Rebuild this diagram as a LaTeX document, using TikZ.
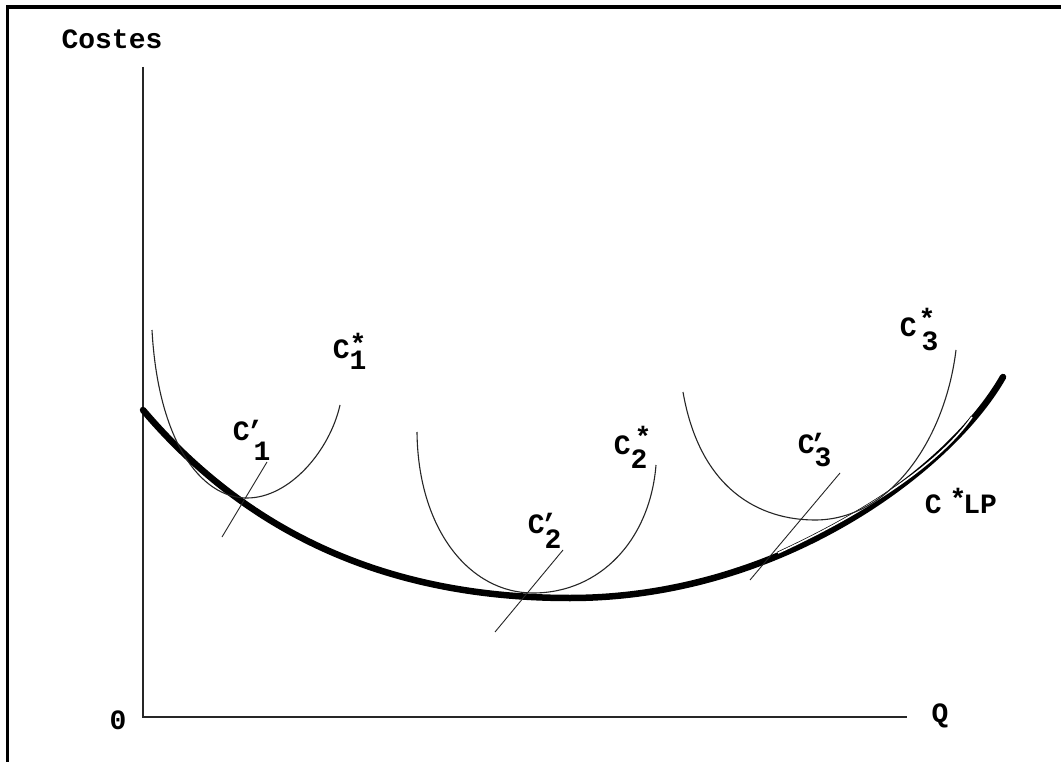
\documentclass[tikz,border=0pt]{standalone}
\usepackage{fontspec}
\setmonofont{Liberation Mono}
\begin{document}
\begin{tikzpicture}[x=1pt,y=-1pt,
  lbl/.style={font=\ttfamily\bfseries\fontsize{28}{28}\selectfont, inner sep=0pt},
  axisline/.style={line width=1.5pt, black!85},
  thin/.style={line width=1.1pt, black!85},
  ptr/.style={line width=0.9pt, black!85},
  lp/.style={line width=6.5pt, black},
  frameline/.style={line width=3.5pt, black}]
\useasboundingbox (0,0) rectangle (1061,762);
\fill[white] (0,0) rectangle (1061,762);
% frame (top and left only)
\draw[frameline] (1061,7) -- (7.5,7) -- (7.5,762);
% axes
\coordinate (ytop) at (143,67);
\coordinate (orig) at (143,717);
\coordinate (xend) at (907,717);
\draw[axisline] (ytop) -- (orig) -- (xend);
\node[lbl, anchor=center] (costes) at (112,39) {Costes};
\node[lbl, anchor=center] (zero) at (118,720) {0};
\node[lbl, anchor=center] (q) at (940,716) {Q};
% long-run curve
\draw[lp, line cap=round] (143,410) .. controls (255,542) and (400,598) .. (570,598)
                                    .. controls (780,598) and (950,470) .. (1003,377);
% double thin trace along the long-run curve
\draw[line width=0.7pt, double=white, double distance=1.6pt] (778,553) .. controls (850,520) and (935,470) .. (972,417);
% short-run curves
\draw[thin] (152,330) .. controls (158,440) and (200,498) .. (247,498)
                      .. controls (290,498) and (330,450) .. (340,405);
\draw[thin] (417,432) .. controls (418,530) and (470,593) .. (533,593)
                      .. controls (600,593) and (650,540) .. (656,465);
\draw[thin] (683,392) .. controls (700,490) and (760,520) .. (815,520)
                      .. controls (890,520) and (945,440) .. (956,350);
% pointer lines
\coordinate (p1a) at (222,537); \coordinate (p1b) at (267,462);
\coordinate (p2a) at (495,632); \coordinate (p2b) at (563,550);
\coordinate (p3a) at (750,580); \coordinate (p3b) at (840,473);
\draw[ptr] (p1a) -- (p1b);
\draw[ptr] (p2a) -- (p2b);
\draw[ptr] (p3a) -- (p3b);
% labels
\node[lbl, anchor=base west] (c1s) at (332.6,358) {C\rlap{\raisebox{5pt}{*}}\raisebox{-12pt}{1}};
\node[lbl, anchor=base west] (c1p) at (232.6,440) {C\rlap{\kern-3pt ’}\raisebox{-20pt}{\kern4pt 1}};
\node[lbl, anchor=base west] (c2s) at (613.6,454) {C\rlap{\kern4pt\raisebox{8pt}{*}}\raisebox{-14pt}{2}};
\node[lbl, anchor=base west] (c2p) at (527.6,533) {C\rlap{\kern-4pt ’}\raisebox{-15pt}{2}};
\node[lbl, anchor=base west] (c3s) at (899.6,336) {C\rlap{\kern2pt\raisebox{7pt}{*}}\raisebox{-14pt}{\kern5pt 3}};
\node[lbl, anchor=base west] (c3p) at (797.6,453) {C\rlap{\kern-5pt ’}\raisebox{-13pt}{3}};
\node[lbl, anchor=base west] (clp) at (924.6,513) {C\kern8pt\raisebox{5pt}{*}\kern-3pt LP};
\end{tikzpicture}
\end{document}
